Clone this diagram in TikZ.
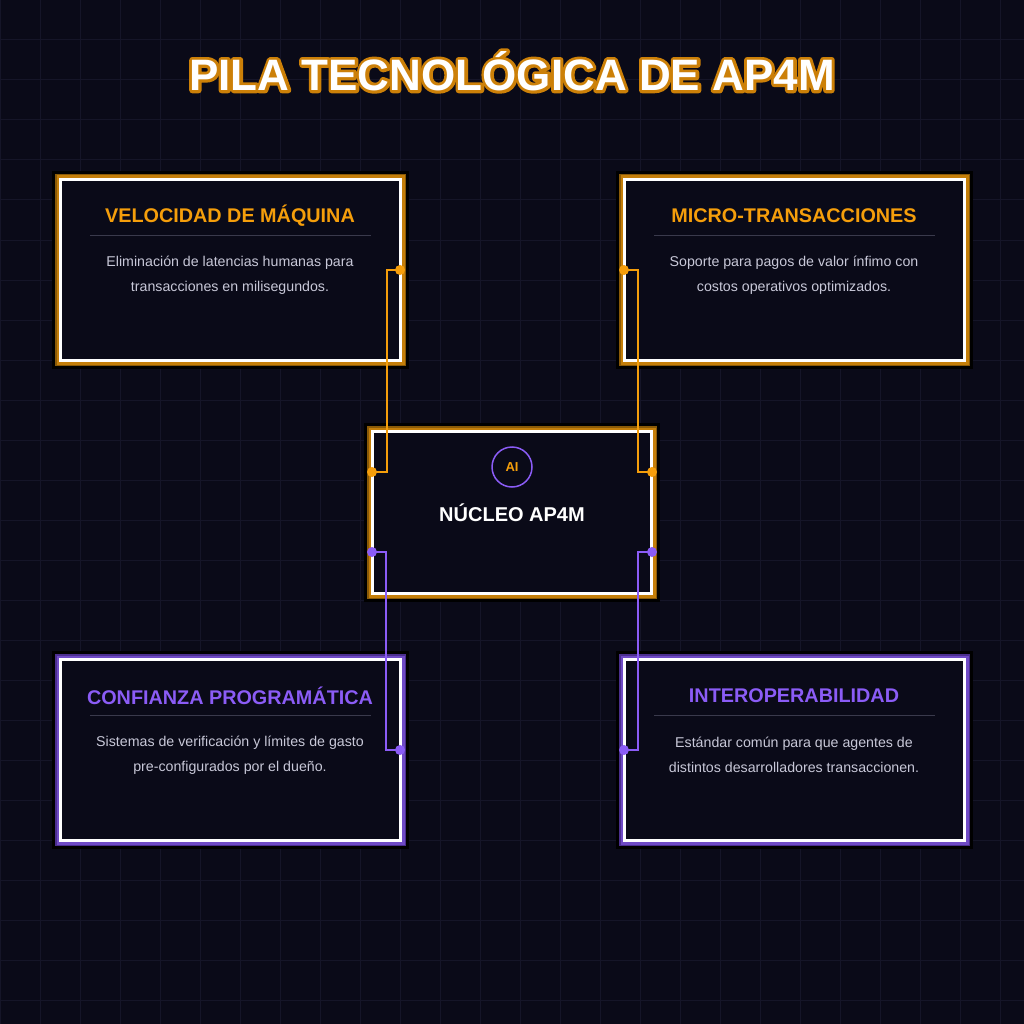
\documentclass[tikz,border=0pt]{standalone}
\usepackage{fontspec}
\setmainfont{Liberation Sans}
\begin{document}
\definecolor{bg}{HTML}{0A0A18}
\definecolor{gridc}{HTML}{151528}
\definecolor{gold}{HTML}{F59E0B}
\definecolor{golddk}{HTML}{8A5A08}
\definecolor{purp}{HTML}{8B5CF6}
\definecolor{purpdk}{HTML}{4C2F8F}
\definecolor{body}{HTML}{C8C8D8}
\definecolor{sep}{HTML}{3A3A4C}
\newcommand\ttltext{PILA TECNOLÓGICA DE AP4M}
\begin{tikzpicture}[x=1pt,y=-1pt,
  ttl/.style={font=\bfseries\fontsize{19.8}{22}\selectfont},
  bdy/.style={font=\fontsize{14.2}{25}\selectfont,text=body,align=center},
  dot/.style={circle,inner sep=0pt,minimum size=10pt},
  ]
\fill[bg] (0,0) rectangle (1024,1024);
\useasboundingbox (0,0) rectangle (1024,1024);
\foreach \i in {0,40,...,1000}{\draw[gridc,line width=1pt] (\i,0)--(\i,1024); \draw[gridc,line width=1pt] (0,\i)--(1024,\i);}
\newcommand\mybox[6]{% x1 y1 x2 y2 col dk
  \fill[black] (#1-7,#2-7) rectangle (#3+7,#4+7);
  \fill[#6] (#1-4,#2-4) rectangle (#3+4,#4+4);
  \fill[#5!80!black] (#1-2.5,#2-2.5) rectangle (#3+2.5,#4+2.5);
  \fill[bg] (#1,#2) rectangle (#3,#4);
  \draw[white,line width=3.5pt] (#1+1.5,#2+1.5) rectangle (#3-1.5,#4-1.5);}
\mybox{59}{178}{402}{362}{gold}{golddk}
\mybox{623}{178}{966}{362}{gold}{golddk}
\mybox{59}{658}{402}{842}{purp}{purpdk}
\mybox{623}{658}{966}{842}{purp}{purpdk}
\mybox{371}{430}{653}{595}{gold}{golddk}
% title
\node[font=\bfseries\fontsize{44}{50}\selectfont,text=white] (title) at (512,71) {\rlap{\special{pdf:code 1 Tr 1 j 6 w 0.80 0.50 0.03 RG}\ttltext\special{pdf:code 0 Tr}}\ttltext};
% box texts
\node[ttl,text=gold] (t1) at (230,216) {VELOCIDAD DE MÁQUINA};
\draw[sep] (90,235)--(371,235);
\node[bdy] (b1) at (230,275) {Eliminación de latencias humanas para\\transacciones en milisegundos.};
\node[ttl,text=gold] (t2) at (794,216) {MICRO-TRANSACCIONES};
\draw[sep] (654,235)--(935,235);
\node[bdy] (b2) at (794,275) {Soporte para pagos de valor ínfimo con\\costos operativos optimizados.};
\node[ttl,text=purp] (t3) at (230,696) {CONFIANZA PROGRAMÁTICA};
\draw[sep] (90,715)--(371,715);
\node[bdy] (b3) at (230,755) {Sistemas de verificación y límites de gasto\\pre-configurados por el dueño.};
\node[ttl,text=purp] (t4) at (794,696) {INTEROPERABILIDAD};
\draw[sep] (654,715)--(935,715);
\node[bdy] (b4) at (794,755) {Estándar común para que agentes de\\distintos desarrolladores transaccionen.};
% core
\node[circle,draw=purp,line width=1.5pt,minimum size=40pt,inner sep=0pt,text=gold,font=\bfseries\fontsize{13}{15}\selectfont] (ai) at (512,467) {AI};
\node[font=\bfseries\fontsize{20}{24}\selectfont,text=white] (core) at (512,513) {NÚCLEO AP4M};
% dots
\node[dot,fill=gold] (d1) at (400,270) {};
\node[dot,fill=gold] (c1) at (372,472) {};
\node[dot,fill=gold] (d2) at (624,270) {};
\node[dot,fill=gold] (c2) at (652,472) {};
\node[dot,fill=purp] (c3) at (372,552) {};
\node[dot,fill=purp] (d3) at (400,750) {};
\node[dot,fill=purp] (c4) at (652,552) {};
\node[dot,fill=purp] (d4) at (624,750) {};
\draw[gold,line width=1.5pt] (d1.center)--(387,270)--(387,472)--(c1.center);
\draw[gold,line width=1.5pt] (d2.center)--(638,270)--(638,472)--(c2.center);
\draw[purp,line width=1.5pt] (c3.center)--(386,552)--(386,750)--(d3.center);
\draw[purp,line width=1.5pt] (c4.center)--(638,552)--(638,750)--(d4.center);
\end{tikzpicture}
\end{document}
